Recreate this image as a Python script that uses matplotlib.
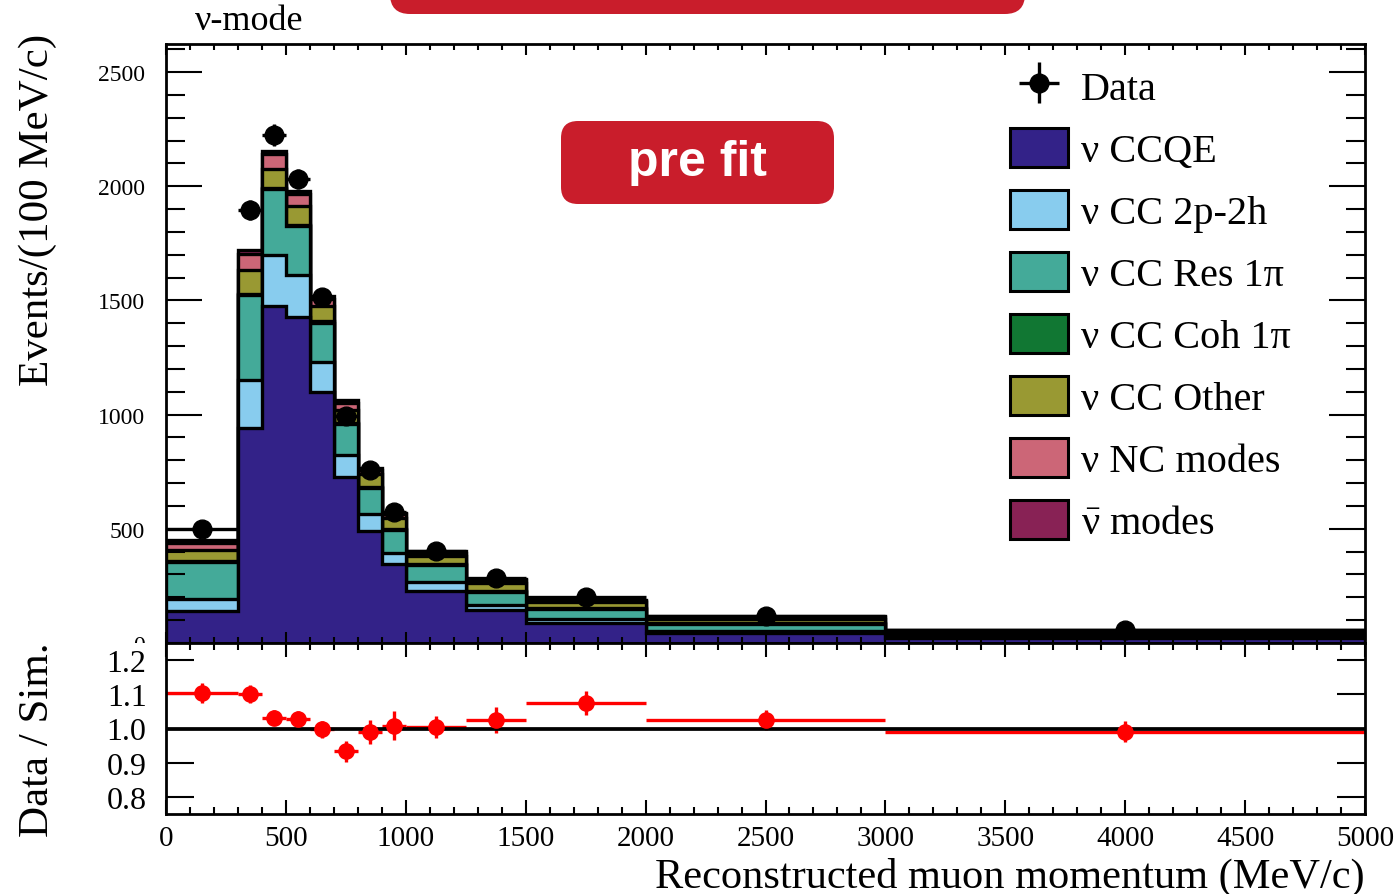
import numpy as np
import matplotlib
matplotlib.use("Agg")
import matplotlib.pyplot as plt
from matplotlib.patches import FancyBboxPatch, Rectangle, Patch
from matplotlib.ticker import MultipleLocator, FixedLocator, FormatStrFormatter
from matplotlib.transforms import Bbox

# ---------------- data (events per 100 MeV/c) ----------------
bin_edges = [0, 300, 400, 500, 600, 700, 800, 900, 1000, 1250, 1500, 2000, 3000, 5000]
bin_centers = [150, 350, 450, 550, 650, 750, 850, 950, 1125, 1375, 1750, 2500, 4000]

nu_ccqe    = [138, 940, 1475, 1426, 1098, 728, 491, 346, 229, 146, 88, 44, 22]
nu_cc2p2h  = [55, 212, 222, 186, 133, 96, 74, 49, 38, 22, 16, 8, 3]
nu_ccres   = [162, 370, 290, 212, 170, 135, 112, 98, 75, 55, 45, 33, 14]
nu_cccoh   = [2, 8, 6, 6, 7, 5, 6, 5, 4, 3, 3, 2, 1]
nu_ccother = [50, 103, 82, 84, 67, 55, 59, 50, 36, 37, 26, 18, 11]
nu_nc      = [31, 70, 65, 50, 33, 31, 16, 15, 13, 12, 7, 8, 4]
antinu     = [15, 19, 15, 14, 11, 15, 7, 7, 6, 4, 3, 4, 2]

data_vals = [500, 1895, 2224, 2032, 1515, 994, 757, 575, 403, 286, 202, 120, 56.5]
data_errs = [13, 44, 47, 45, 39, 32, 27.5, 24, 12.7, 10.7, 6.4, 3.5, 1.7]

labels = ["ν CCQE", "ν CC 2p-2h", "ν CC Res 1π", "ν CC Coh 1π",
          "ν CC Other", "ν NC modes", r"$\bar{\mathrm{\nu}}$ modes"]
colors = ["#332288", "#88CCEE", "#44AA99", "#117733", "#999933", "#CC6677", "#882255"]

x_ticks = [0, 500, 1000, 1500, 2000, 2500, 3000, 3500, 4000, 4500, 5000]
ratio_ticks = [0.8, 0.9, 1.0, 1.1, 1.2]

# ---------------- style ----------------
plt.rcParams["font.family"] = ["Liberation Serif", "DejaVu Serif"]
plt.rcParams["mathtext.fontset"] = "custom"
plt.rcParams["mathtext.rm"] = "Liberation Serif"
plt.rcParams["mathtext.it"] = "Liberation Serif:italic"
plt.rcParams["mathtext.bf"] = "Liberation Serif:bold"
W, H = 1397, 895
fig = plt.figure(figsize=(W / 100, H / 100), dpi=100)

def fr(x0, y_top, x1, y_bot):
    return [x0 / W, (H - y_bot) / H, (x1 - x0) / W, (y_bot - y_top) / H]

ax = fig.add_axes(fr(166, 45, 1365, 644))
ax2 = fig.add_axes(fr(166, 644, 1365, 815))
ax2.set_zorder(2)

LW = 2.4
comps = [nu_ccqe, nu_cc2p2h, nu_ccres, nu_cccoh, nu_ccother, nu_nc, antinu]
levels = np.cumsum(np.array(comps, dtype=float), axis=0)
for k in reversed(range(len(comps))):
    ax.stairs(levels[k], bin_edges, fill=True, facecolor=colors[k],
              edgecolor="black", linewidth=LW, baseline=0, zorder=1)

edges = np.array(bin_edges, dtype=float)
xerr = np.diff(edges) / 2
dat = np.array(data_vals)
derr = np.array(data_errs)
eb = ax.errorbar(bin_centers, dat, xerr=xerr, yerr=derr, fmt="o", color="black",
                 ms=13.5, elinewidth=LW, capsize=0, zorder=5)

ax.set_xlim(0, 5000)
ax.set_ylim(0, 2623)
ax.xaxis.set_major_locator(FixedLocator(x_ticks))
ax.xaxis.set_minor_locator(MultipleLocator(100))
ax.yaxis.set_major_locator(MultipleLocator(500))
ax.yaxis.set_minor_locator(MultipleLocator(100))
ax.tick_params(axis="x", which="both", direction="in", top=True, bottom=True,
               labelbottom=False, width=1.5)
ax.tick_params(axis="x", which="major", length=8)
ax.tick_params(axis="x", which="minor", length=4)
ax.tick_params(axis="y", which="both", direction="in", left=True, right=True,
               width=1.5, labelsize=17, pad=15)
ax.tick_params(axis="y", which="major", length=26)
ax.tick_params(axis="y", which="minor", length=14)
for s in ax.spines.values():
    s.set_linewidth(2.0)

ax.set_ylabel("Events/(100 MeV/c)", fontsize=31)
ax.yaxis.set_label_coords(-0.1072, 0.7245)
ax.yaxis.label.set_va("center")
ax.yaxis.label.set_ha("center")

# legend
handles = [eb] + [Patch(facecolor=c, edgecolor="black", linewidth=2.2) for c in colors]
leg = ax.legend(handles, ["Data"] + labels, loc="upper left",
                bbox_to_anchor=((1010 - 166) / 1199, (644 - 67) / 599),
                frameon=False, fontsize=29, handlelength=1.44, handleheight=1.12,
                handletextpad=0.32, labelspacing=0.49, borderpad=0, borderaxespad=0)

# ratio panel
ratio = dat / levels[-1]
rerr = derr / levels[-1]
ax2.errorbar(bin_centers, ratio, xerr=xerr, yerr=rerr, fmt="none", ecolor="red",
             elinewidth=LW, capsize=0, zorder=2)
ax2.axhline(1.0, color="black", lw=LW + 0.3, zorder=3)
ax2.plot(bin_centers, ratio, "o", color="red", ms=11, zorder=4)
ax2.set_xlim(0, 5000)
ax2.set_ylim(0.75, 1.25)
ax2.xaxis.set_major_locator(FixedLocator(x_ticks))
ax2.xaxis.set_minor_locator(MultipleLocator(100))
ax2.yaxis.set_major_locator(FixedLocator(ratio_ticks))
ax2.yaxis.set_major_formatter(FormatStrFormatter("%.1f"))
ax2.tick_params(axis="x", which="both", direction="in", top=True, bottom=True,
                width=1.5, labelsize=21, pad=8)
ax2.tick_params(axis="x", which="major", length=10)
ax2.tick_params(axis="x", which="minor", length=5)
ax2.tick_params(axis="y", which="major", direction="in", left=True, right=True,
                length=20, width=1.5, labelsize=23, pad=14)
for s in ax2.spines.values():
    s.set_linewidth(2.0)
ax2.set_ylabel("Data / Sim.", fontsize=31)
ax2.yaxis.set_label_coords(-0.1072, 0.4386)
ax2.yaxis.label.set_va("center")
ax2.yaxis.label.set_ha("center")
ax2.set_xlabel("Reconstructed muon momentum (MeV/c)", fontsize=30.5, loc="right")
ax2.xaxis.set_label_coords(1.0, (815 - 877) / 171)
ax2.xaxis.label.set_va("center")

# the ratio pad hides the lower half of the main "0" label (as in the original)
fig.canvas.draw()
clip = Bbox.from_extents(0, H - 644, 166, H)
for t in ax.get_yticklabels():
    if t.get_text() in ("0", "\u22120"):
        t.set_clip_box(clip)
        t.set_clip_on(True)

# annotations
fig.text(195 / W, (H - 22) / H, "ν-mode", fontsize=26, ha="left", va="center")

red = "#C91D2B"
topbox = FancyBboxPatch((3.90, 8.80), 6.35, 1.0, boxstyle="round,pad=0,rounding_size=0.2",
                        transform=fig.dpi_scale_trans, facecolor=red, edgecolor="none",
                        zorder=3)
fig.add_artist(topbox)
prebox = FancyBboxPatch((5.61, (H - 205) / 100), 2.73, 0.83,
                        boxstyle="round,pad=0,rounding_size=0.17",
                        transform=fig.dpi_scale_trans, facecolor=red, edgecolor="none",
                        zorder=3)
fig.add_artist(prebox)
fig.text(697.5 / W, (H - 163) / H, "pre fit", fontsize=36, fontweight="bold",
         family=["Liberation Sans", "DejaVu Sans"], color="white",
         ha="center", va="center", zorder=4)

fig.savefig("out.png", dpi=100)
